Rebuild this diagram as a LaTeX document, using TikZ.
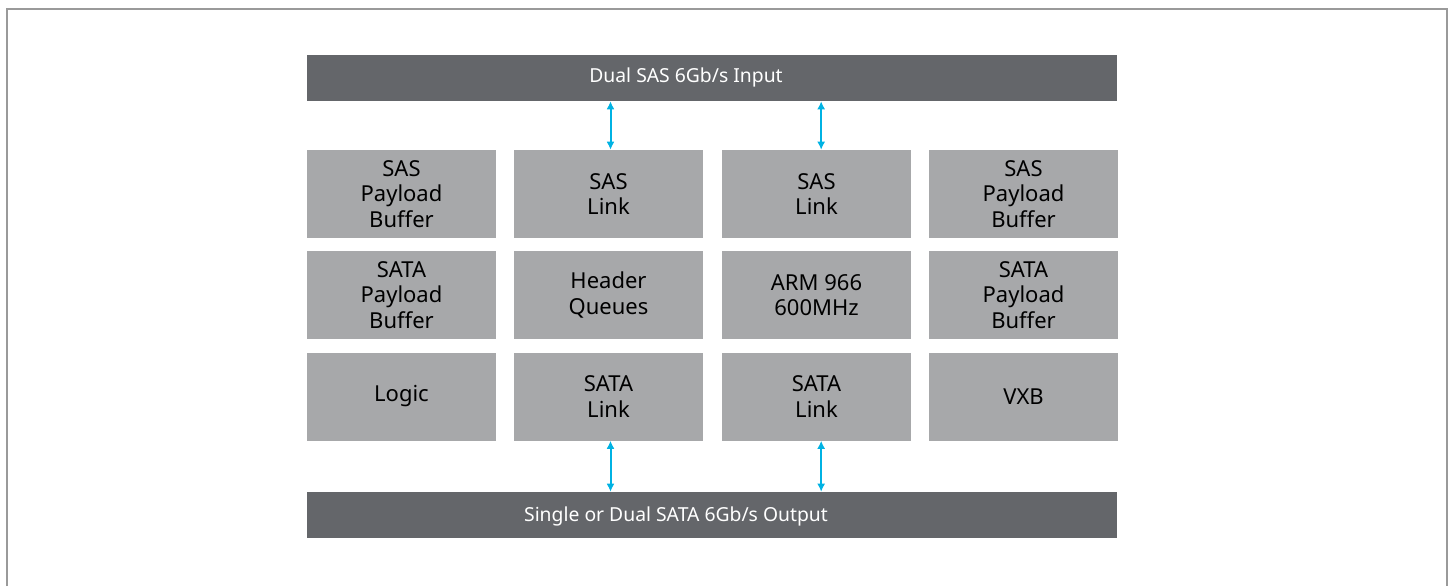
\documentclass[tikz,border=0pt]{standalone}
\usepackage{fontspec}
\setmainfont{Noto Sans}
\usepackage{tikz}
\usetikzlibrary{arrows.meta}

\definecolor{barGray}{HTML}{64666A}
\definecolor{boxGray}{HTML}{A7A8AA}
\definecolor{linkCyan}{HTML}{00B2E3}
\definecolor{frameGray}{HTML}{9A9A9A}

\tikzset{
  bar/.style={fill=barGray, minimum width=607.5pt, minimum height=34.5pt, inner sep=0pt},
  barText/.style={text=white, inner sep=0pt, font=\fontsize{14.5}{16}\selectfont},
  block/.style={fill=boxGray, text=black, minimum width=141.75pt, minimum height=66pt, inner sep=0pt, align=center, font=\fontsize{16.5}{19}\selectfont},
  link/.style={linkCyan, line width=1.5pt, {Latex[length=6pt,width=6pt]}-{Latex[length=6pt,width=6pt]}}
}

\begin{document}
\begin{tikzpicture}[x=0.75pt,y=0.75pt,yscale=-1,xscale=1]
        \useasboundingbox (0,0) rectangle (1452,586);
        % frame
        \draw [frameGray, line width=1.5pt] (7,586) -- (7,9) -- (1447,9) -- (1447,586);

        % Bars
        \node [bar] (input) at (712,78) {};
        \node [barText] (inputText) at (686,77) {Dual SAS 6Gb/s Input};
        \node [bar] (output) at (712,515) {};
        \node [barText] (outputText) at (676,516) {Single or Dual SATA 6Gb/s Output};

        % Row 1
        \node [block] (sasBufA) at (401.5,194) {SAS\\Payload\\Buffer};
        \node [block] (sasLinkA) at (608.5,194) {SAS\\Link};
        \node [block] (sasLinkB) at (816.5,194) {SAS\\Link};
        \node [block] (sasBufB) at (1023.5,194) {SAS\\Payload\\Buffer};
        % Row 2
        \node [block] (sataBufA) at (401.5,295) {SATA\\Payload\\Buffer};
        \node [block] (header) at (608.5,295) {Header\\Queues};
        \node [block] (arm) at (816.5,295) {ARM 966\\600MHz};
        \node [block] (sataBufB) at (1023.5,295) {SATA\\Payload\\Buffer};
        % Row 3
        \node [block] (logic) at (401.5,396.5) {Logic};
        \node [block] (sataLinkA) at (608.5,396.5) {SATA\\Link};
        \node [block] (sataLinkB) at (816.5,396.5) {SATA\\Link};
        \node [block] (vxb) at (1023.5,396.5) {VXB};

        % Links
        \draw [link] ([xshift=1.5pt]input.south -| sasLinkA.north) -- ([xshift=1.5pt]sasLinkA.north);
        \draw [link] ([xshift=3.5pt]input.south -| sasLinkB.north) -- ([xshift=3.5pt]sasLinkB.north);
        \draw [link] ([xshift=1.5pt]sataLinkA.south) -- ([xshift=1.5pt]output.north -| sataLinkA.south);
        \draw [link] ([xshift=3.5pt]sataLinkB.south) -- ([xshift=3.5pt]output.north -| sataLinkB.south);
\end{tikzpicture}
\end{document}
